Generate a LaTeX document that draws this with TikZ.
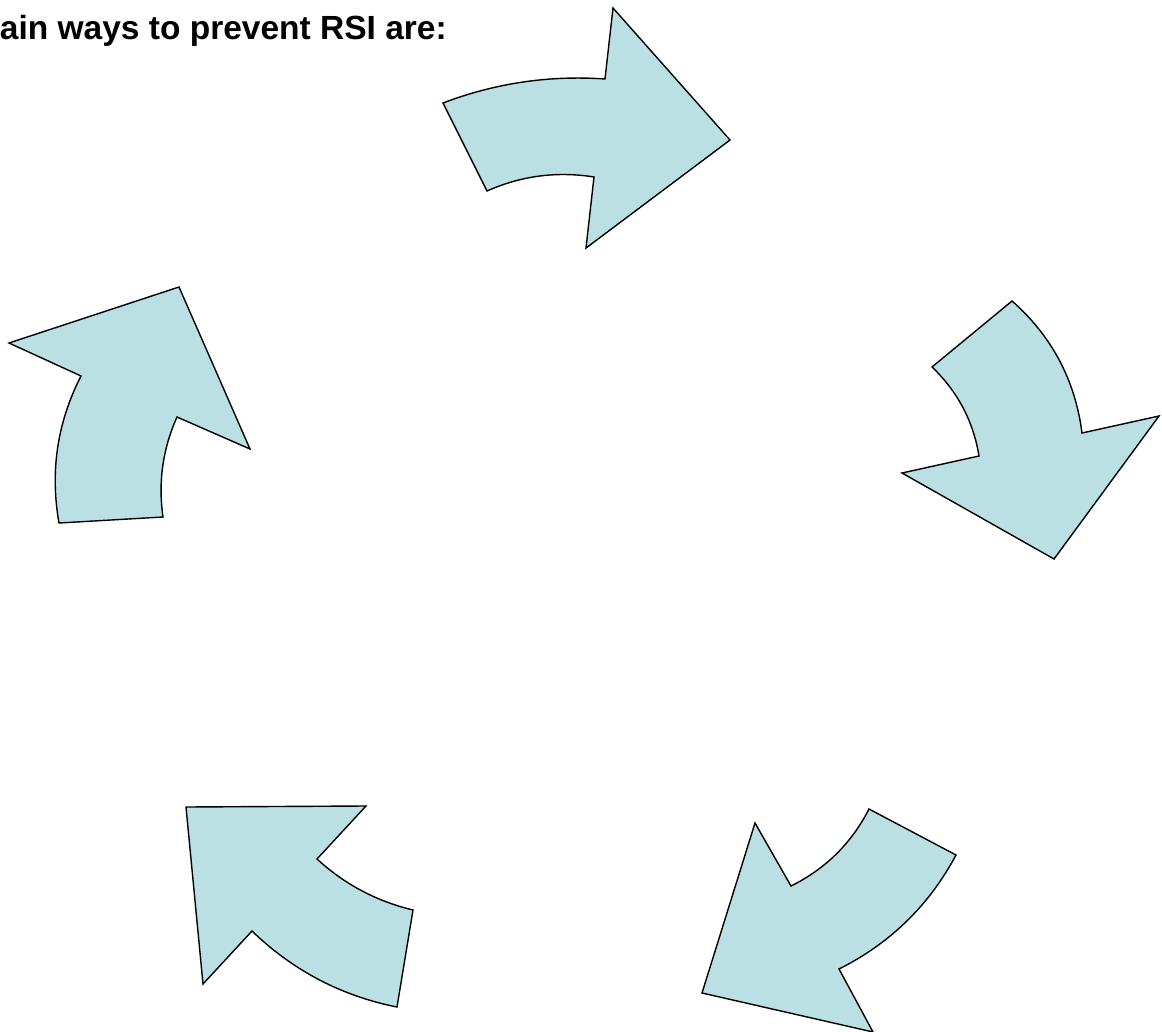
\documentclass[tikz,border=0pt]{standalone}
\usepackage{fontspec}
\setmainfont{Liberation Sans}
\definecolor{arrowfill}{RGB}{187,224,227}
\tikzset{
  blockarrow/.style={draw=black, fill=arrowfill, line width=1.4pt, line join=miter},
  titletext/.style={anchor=base east, inner sep=0pt, font=\bfseries\fontsize{33.5}{40}\selectfont}
}
\begin{document}
\begin{tikzpicture}[x=1pt,y=-1pt]
\useasboundingbox (0,0) rectangle (1162,1032);
\node[titletext] (title) at (447,40) {ain ways to prevent RSI are:};
% arrow 1 (top, pointing right)
\draw[blockarrow] (443,103) .. controls (495.3,83.1) and (549.3,75.1) .. (605,79) -- (613,8) -- (730,140) -- (586,248) -- (594,177)
  .. controls (556.9,171.1) and (521.3,175.7) .. (487,191) -- cycle;
% arrow 2 (right, pointing down)
\draw[blockarrow] (1012,301) .. controls (1051.9,336.2) and (1075.2,380.2) .. (1082,433) -- (1159,416) -- (1054,559) -- (902,473) -- (979,456)
  .. controls (973.3,421.1) and (957.6,391.5) .. (932,367) -- cycle;
% arrow 3 (bottom right, pointing down-left)
\draw[blockarrow] (869,809) -- (956,855) .. controls (929.1,905.4) and (890.1,943.4) .. (839,969) -- (873,1032) -- (702,993) -- (755,823) -- (791,886)
  .. controls (825.5,868.9) and (851.5,843.2) .. cycle;
% arrow 4 (bottom left, pointing up-left)
\draw[blockarrow] (366,806) -- (186,807) -- (203,984) -- (252,931) .. controls (292.9,970.5) and (341.3,995.9) .. (397,1007) -- (413,910)
  .. controls (376.6,901.3) and (344.6,884.3) .. (317,859) -- cycle;
% arrow 5 (left, pointing up)
\draw[blockarrow] (179,287) -- (9,343) -- (81,376) .. controls (57.2,422.5) and (49.9,471.5) .. (59,523) -- (163,517)
  .. controls (158,482.3) and (162.7,449) .. (177,417) -- (250,449) -- cycle;
\end{tikzpicture}
\end{document}
